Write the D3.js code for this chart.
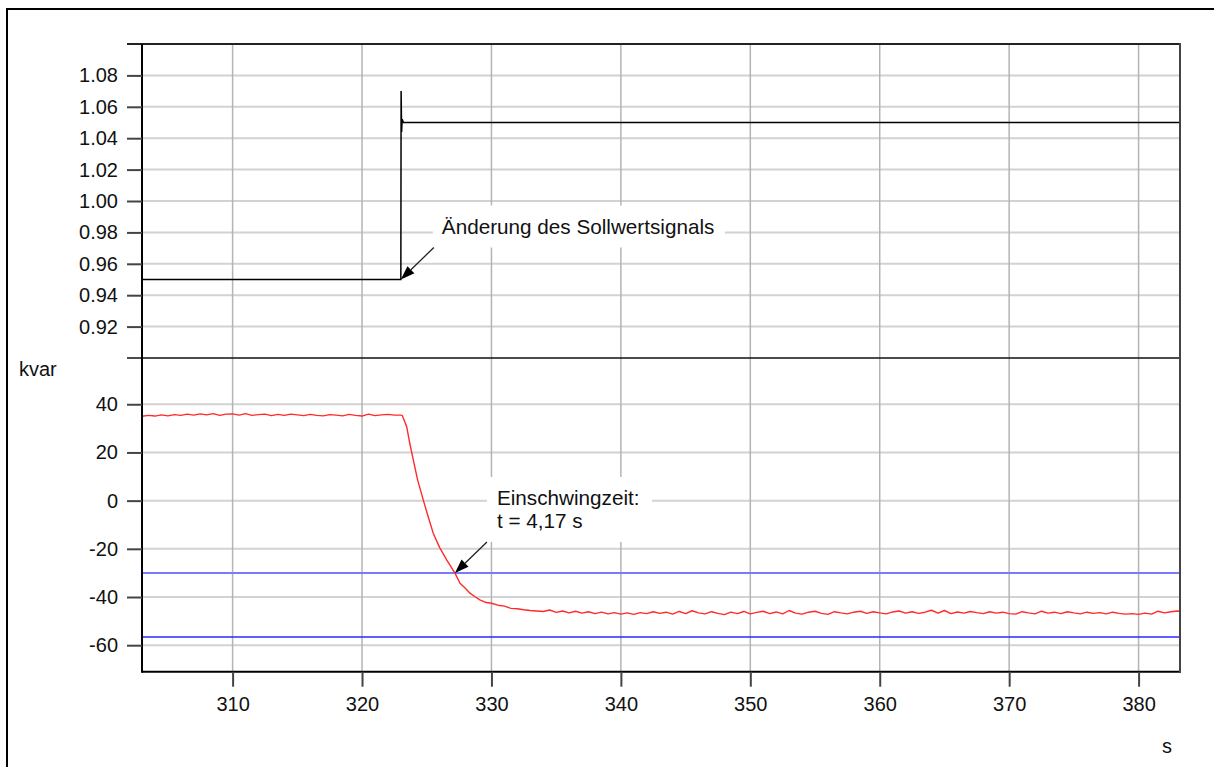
<!DOCTYPE html>
<html>
<head>
<meta charset="utf-8">
<script src="https://cdn.jsdelivr.net/npm/d3@7"></script>
<style>
  html, body { margin: 0; padding: 0; background: #fff; }
  svg { display: block; font-family: "Liberation Sans", Arial, sans-serif; }
</style>
</head>
<body>
<svg id="chart" width="1214" height="767"></svg>
<script>
// ---------- data ----------
const xTicks = [310, 320, 330, 340, 350, 360, 370, 380];
const upperTicks = [0.92, 0.94, 0.96, 0.98, 1.00, 1.02, 1.04, 1.06, 1.08];
const lowerTicks = [40, 20, 0, -20, -40, -60];

// set-point signal (upper panel)
const setpointTime  = [303.0, 323.0, 323.02, 323.06, 323.1, 323.2, 383.2];
const setpointValue = [0.95,  0.95,  1.07,   1.044,  1.052, 1.05,  1.05];

// reactive power (lower panel): [time s, kvar]
const kvarData = [
  [303.0,35.0],[303.5,35.4],[304.0,35.1],[304.5,35.6],[305.0,35.2],[305.5,35.7],[306.0,35.4],[306.5,35.9],
  [307.0,35.5],[307.5,36.0],[308.0,35.6],[308.5,36.1],[309.0,35.4],[309.5,35.9],[310.0,36.0],[310.5,35.5],
  [311.0,36.1],[311.5,35.4],[312.0,35.7],[312.5,35.9],[313.0,35.3],[313.5,35.8],[314.0,35.4],[314.5,35.9],
  [315.0,35.6],[315.5,35.3],[316.0,35.8],[316.5,35.4],[317.0,35.2],[317.5,35.7],[318.0,35.5],[318.5,35.2],
  [319.0,35.8],[319.5,35.4],[320.0,35.1],[320.5,35.9],[321.0,35.3],[321.5,35.6],[322.0,35.8],[322.5,35.5],
  [323.0,35.5],[323.1,35.4],[323.25,33.5],[323.45,30.7],[323.7,23.5],[323.96,16.9],[324.3,8.5],[324.73,0.3],
  [325.1,-6.5],[325.5,-13.5],[326.0,-19.5],[326.54,-24.6],[327.18,-30.1],[327.57,-34.3],[328.0,-36.5],
  [328.34,-38.4],[328.7,-39.8],[329.1,-41.2],[329.6,-42.3],[330.0,-42.6],[330.5,-43.4],[331.0,-43.8],
  [331.5,-44.7],[332.0,-44.9],[332.5,-45.3],[333.0,-45.6],[333.5,-45.8],
  [334.0,-46.0],[334.5,-45.4],[335.0,-46.4],[335.5,-45.8],[336.0,-46.6],[336.5,-45.9],[337.0,-46.7],[337.5,-46.1],
  [338.0,-46.9],[338.5,-46.3],[339.0,-47.0],[339.5,-46.5],[340.0,-47.1],[340.5,-46.6],[341.0,-47.2],[341.5,-46.5],
  [342.0,-46.9],[342.5,-46.1],[343.0,-46.8],[343.5,-46.3],[344.0,-47.1],[344.5,-46.0],[345.0,-46.9],[345.5,-45.7],
  [346.0,-46.6],[346.5,-47.0],[347.0,-46.1],[347.5,-46.8],[348.0,-47.3],[348.5,-46.3],[349.0,-46.9],[349.5,-46.0],
  [350.0,-47.0],[350.5,-46.4],[351.0,-45.9],[351.5,-46.9],[352.0,-46.2],[352.5,-47.0],[353.0,-45.6],[353.5,-46.7],
  [354.0,-47.1],[354.5,-46.3],[355.0,-45.9],[355.5,-46.8],[356.0,-47.2],[356.5,-46.1],[357.0,-46.6],[357.5,-47.0],
  [358.0,-46.3],[358.5,-45.9],[359.0,-46.8],[359.5,-46.1],[360.0,-46.6],[360.5,-47.0],[361.0,-46.2],[361.5,-45.8],
  [362.0,-46.7],[362.5,-46.1],[363.0,-46.8],[363.5,-46.3],[364.0,-45.5],[364.5,-46.7],[365.0,-45.6],[365.5,-46.9],
  [366.0,-46.2],[366.5,-46.7],[367.0,-46.0],[367.5,-46.5],[368.0,-46.9],[368.5,-46.1],[369.0,-46.7],[369.5,-46.3],
  [370.0,-46.9],[370.5,-47.1],[371.0,-46.1],[371.5,-46.6],[372.0,-47.0],[372.5,-45.9],[373.0,-46.7],[373.5,-46.3],
  [374.0,-46.9],[374.5,-46.1],[375.0,-46.6],[375.5,-47.0],[376.0,-46.3],[376.5,-46.8],[377.0,-46.5],[377.5,-47.0],
  [378.0,-46.3],[378.5,-46.8],[379.0,-47.1],[379.5,-46.9],[380.0,-47.2],[380.5,-46.7],[381.0,-47.1],[381.5,-45.9],
  [382.0,-46.6],[382.5,-46.1],[383.0,-45.8],[383.2,-46.0]
];

// tolerance band limits (kvar)
const bandLevels = [-30, -56.6];
const bandColors = ["#7a7aff", "#2a2aff"];

// annotations
const note1Lines = ["Änderung des Sollwertsignals"];
const note2Lines = ["Einschwingzeit:", "t = 4,17 s"];
const note1Target = [323.0, 0.95];
const note2Target = [327.18, -30];

// ---------- layout ----------
const svg = d3.select("#chart");
const L = 142, R = 1180, T = 44, MID = 358, B = 671.7;

const x = d3.scaleLinear().domain([303, 383.2]).range([L, R]);
const yU = d3.scaleLinear().domain([0.90, 1.10]).range([MID, T]);
const yL = d3.scaleLinear().domain([-71, 59.2]).range([B, MID]);

// outer frame
svg.append("rect").attr("x", 7).attr("y", 9).attr("width", 1230).attr("height", 800)
  .attr("fill", "none").attr("stroke", "#000").attr("stroke-width", 2);

// clip
svg.append("clipPath").attr("id", "plotclip").append("rect")
  .attr("x", L).attr("y", T).attr("width", R - L).attr("height", B - T);

const grid = svg.append("g");
grid.selectAll(".hu").data(upperTicks).join("line")
  .attr("x1", L).attr("x2", R).attr("y1", d => yU(d)).attr("y2", d => yU(d))
  .attr("stroke", "#d2d2d2").attr("stroke-width", 2);
grid.selectAll(".hl").data(lowerTicks).join("line")
  .attr("x1", L).attr("x2", R).attr("y1", d => yL(d)).attr("y2", d => yL(d))
  .attr("stroke", "#d2d2d2").attr("stroke-width", 2);
grid.selectAll(".v").data(xTicks).join("line")
  .attr("x1", d => x(d)).attr("x2", d => x(d)).attr("y1", T).attr("y2", B)
  .attr("stroke", "#b4b4b4").attr("stroke-width", 1.5);

// annotation boxes (white, hide grid)
function noteBox(x0, y0, w, h) {
  svg.append("rect").attr("x", x0).attr("y", y0).attr("width", w).attr("height", h).attr("fill", "#fff");
}
const t1 = [x(note1Target[0]), yU(note1Target[1])];
const t2 = [x(note2Target[0]), yL(note2Target[1])];
noteBox(t1[0] + 32, t1[1] - 74, 292, 42);
noteBox(t2[0] + 32, t2[1] - 96, 165, 65);

// blue band lines
svg.append("g").attr("clip-path", "url(#plotclip)").selectAll("line").data(bandLevels).join("line")
  .attr("x1", L).attr("x2", R).attr("y1", d => yL(d)).attr("y2", d => yL(d))
  .attr("stroke", (d, i) => bandColors[i]).attr("stroke-width", (d, i) => i === 0 ? 2 : 1.6);

// data lines
const spData = setpointTime.map((t, i) => [t, setpointValue[i]]);
svg.append("path").datum(spData).attr("clip-path", "url(#plotclip)")
  .attr("fill", "none").attr("stroke", "#000").attr("stroke-width", 1.5)
  .attr("d", d3.line().x(d => x(d[0])).y(d => yU(d[1])));

svg.append("path").datum(kvarData).attr("clip-path", "url(#plotclip)")
  .attr("fill", "none").attr("stroke", "#ff2a2a").attr("stroke-width", 1.4)
  .attr("stroke-linejoin", "round")
  .attr("d", d3.line().x(d => x(d[0])).y(d => yL(d[1])));

// frame lines
const fr = svg.append("g");
fr.append("line").attr("x1", 127).attr("x2", R).attr("y1", T).attr("y2", T).attr("stroke", "#222").attr("stroke-width", 2);
fr.append("line").attr("x1", 127).attr("x2", R).attr("y1", MID).attr("y2", MID).attr("stroke", "#111").attr("stroke-width", 1.6);
fr.append("line").attr("x1", L).attr("x2", L).attr("y1", T).attr("y2", B + 1).attr("stroke", "#000").attr("stroke-width", 2);
fr.append("line").attr("x1", L).attr("x2", R + 1).attr("y1", B).attr("y2", B).attr("stroke", "#000").attr("stroke-width", 2);
fr.append("line").attr("x1", R).attr("x2", R).attr("y1", T - 1).attr("y2", B + 1).attr("stroke", "#444").attr("stroke-width", 2);

// axes
const fontSize = 20;
const noteFont = 20.7;
const axU = d3.axisLeft(yU).tickValues(upperTicks).tickFormat(d3.format(".2f")).tickSize(15).tickPadding(9);
const axL = d3.axisLeft(yL).tickValues(lowerTicks).tickFormat(d => d).tickSize(15).tickPadding(9);
const axX = d3.axisBottom(x).tickValues(xTicks).tickFormat(d => d).tickSize(15).tickPadding(10);

function styleAxis(g) {
  g.select(".domain").remove();
  g.selectAll(".tick line").attr("stroke", "#444").attr("stroke-width", 2);
  g.selectAll(".tick text").attr("fill", "#111").attr("font-size", fontSize)
    .attr("font-family", "Liberation Sans, Arial, sans-serif");
}
svg.append("g").attr("transform", `translate(${L},0)`).call(axU).call(styleAxis);
svg.append("g").attr("transform", `translate(${L},0)`).call(axL).call(styleAxis)
  .selectAll(".tick text").text(d => d < 0 ? "-" + Math.abs(d) : d);
svg.append("g").attr("transform", `translate(0,${B})`).call(axX).call(styleAxis);

// unit labels
svg.append("text").attr("x", 19).attr("y", 376).attr("font-size", fontSize).attr("fill", "#111").text("kvar");
svg.append("text").attr("x", 1167).attr("y", 753).attr("text-anchor", "middle").attr("font-size", fontSize).attr("fill", "#111").text("s");

// annotation texts
svg.append("g").selectAll("text").data(note1Lines).join("text")
  .attr("x", t1[0] + 41).attr("y", (d, i) => t1[1] - 46 + i * 23)
  .attr("font-size", noteFont).attr("fill", "#111").text(d => d);
svg.append("g").selectAll("text").data(note2Lines).join("text")
  .attr("x", t2[0] + 42).attr("y", (d, i) => t2[1] - 68 + i * 23)
  .attr("font-size", noteFont).attr("fill", "#111").text(d => d);

// arrows
function arrow(tip, from) {
  const dx = from[0] - tip[0], dy = from[1] - tip[1];
  const len = Math.hypot(dx, dy), ux = dx / len, uy = dy / len;
  const hl = 14, hw = 5;
  const bx = tip[0] + ux * hl, by = tip[1] + uy * hl;
  svg.append("line").attr("x1", from[0]).attr("y1", from[1]).attr("x2", bx).attr("y2", by)
    .attr("stroke", "#222").attr("stroke-width", 1.3);
  svg.append("path").attr("d",
    `M${tip[0]},${tip[1]} L${bx - uy * hw},${by + ux * hw} L${bx + uy * hw},${by - ux * hw} Z`)
    .attr("fill", "#000");
}
arrow(t1, [t1[0] + 33, t1[1] - 32]);
arrow(t2, [t2[0] + 32, t2[1] - 31]);
</script>
</body>
</html>
